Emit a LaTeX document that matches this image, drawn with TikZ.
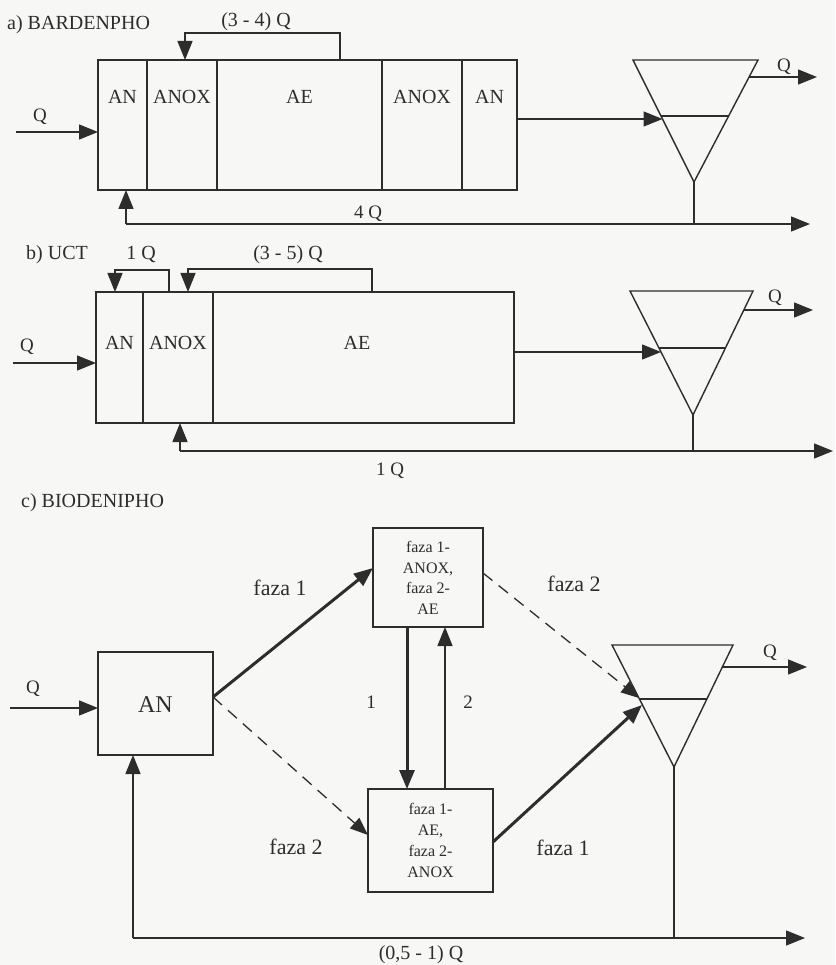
\documentclass[tikz,border=0pt]{standalone}
\usepackage{fontspec}
\setmainfont{Liberation Serif}
\usetikzlibrary{arrows.meta,calc}
\definecolor{ink}{RGB}{45,45,45}
\definecolor{paper}{RGB}{247,247,245}
\begin{document}
\begin{tikzpicture}[x=1pt,y=-1pt,
  every node/.style={text=ink},
  ln/.style={draw=ink,line width=1.4pt},
  arr/.style={ln,-{Triangle[length=19pt,width=15pt]}},
  tarr/.style={draw=ink,line width=3pt,-{Triangle[length=19pt,width=15pt]}},
  darr/.style={draw=ink,line width=1.3pt,dash pattern=on 12pt off 8pt,-{Triangle[length=18pt,width=14pt]}},
  cell/.style={ln,rectangle,inner sep=0pt,outer sep=0pt,anchor=north west},
  lbl/.style={font=\fontsize{20}{23}\selectfont,inner sep=0pt},
  qlbl/.style={font=\fontsize{19}{22}\selectfont,inner sep=0pt},
  fz/.style={font=\fontsize{22}{25}\selectfont,inner sep=0pt},
  boxt/.style={font=\fontsize{16}{20.5}\selectfont,align=center,inner sep=0pt}
]
\fill[paper] (0,0) rectangle (835,965);
\useasboundingbox (0,0) rectangle (835,965);

%%%%%%%%%%%%%%%% a) BARDENPHO
\node[lbl,anchor=west] (ta) at (7,25) {a) BARDENPHO};
\node[lbl] (ta34) at (256,22) {(3 - 4) Q};
\node[cell,minimum width=49pt,minimum height=130pt] (a1) at (98,60) {};
\node[cell,minimum width=70pt,minimum height=130pt] (a2) at (147,60) {};
\node[cell,minimum width=165pt,minimum height=130pt] (a3) at (217,60) {};
\node[cell,minimum width=80pt,minimum height=130pt] (a4) at (382,60) {};
\node[cell,minimum width=55pt,minimum height=130pt] (a5) at (462,60) {};
\node[lbl] (a1t) at (122.5,97) {AN};
\node[lbl] (a2t) at (182,97) {ANOX};
\node[lbl] (a3t) at (299.5,97) {AE};
\node[lbl] (a4t) at (422,97) {ANOX};
\node[lbl] (a5t) at (489.5,97) {AN};
% inlet
\coordinate (aIn) at (16,132);
\node[qlbl] (aQ) at (40,117) {Q};
\draw[arr] (aIn) -- (aIn -| a1.west);
% internal recycle
\coordinate (aR1) at (340,60);
\coordinate (aR2) at (185,60);
\draw[arr] (aR1) -- ++(0,-27) -| (aR2);
% settler
\coordinate (aTL) at (633,60);
\coordinate (aTR) at (758,60);
\coordinate (aB) at (694,182);
\draw[ln,line join=miter] (aTL) -- (aTR) -- (aB) -- cycle;
\draw[ln] (661,116) coordinate (aM1) -- (728.6,116) coordinate (aM2);
\coordinate (aS) at (662.5,119);
\draw[arr] (aS -| a5.east) -- (aS);
\coordinate (aO) at (749,77);
\coordinate (aOe) at (817,77);
\draw[arr] (aO) -- (aOe);
\node[qlbl] (aQo) at (784,67) {Q};
% sludge return
\coordinate (aBL) at (126,224);
\coordinate (aBR) at (810,224);
\draw[ln] (aB) -- (aB |- aBL);
\draw[arr] (aBL) -- (aBR);
\draw[arr] (aBL) -- (aBL |- a1.south);
\node[qlbl] (a4Q) at (368,214) {4 Q};

%%%%%%%%%%%%%%%% b) UCT
\node[lbl,anchor=west] (tb) at (26,255) {b) UCT};
\node[lbl] (tb1) at (141,255) {1 Q};
\node[lbl] (tb35) at (288,255) {(3 - 5) Q};
\node[cell,minimum width=47pt,minimum height=131pt] (b1) at (96,292) {};
\node[cell,minimum width=70pt,minimum height=131pt] (b2) at (143,292) {};
\node[cell,minimum width=301pt,minimum height=131pt] (b3) at (213,292) {};
\node[lbl] (b1t) at (119.5,343) {AN};
\node[lbl] (b2t) at (178,343) {ANOX};
\node[lbl] (b3t) at (357,343) {AE};
% inlet
\coordinate (bIn) at (13,363);
\node[qlbl] (bQ) at (27,347) {Q};
\draw[arr] (bIn) -- (bIn -| b1.west);
% recycles
\coordinate (bR1) at (169,292);
\coordinate (bR2) at (115,292);
\draw[arr] (bR1) -- ++(0,-22) -| (bR2);
\coordinate (bR3) at (372,292);
\coordinate (bR4) at (188,292);
\draw[arr] (bR3) -- ++(0,-23) -| (bR4);
% settler
\coordinate (bTL) at (630,291);
\coordinate (bTR) at (753,291);
\coordinate (bB) at (693,415);
\draw[ln,line join=miter] (bTL) -- (bTR) -- (bB) -- cycle;
\draw[ln] (659,348) coordinate (bM1) -- (725.4,348) coordinate (bM2);
\coordinate (bS) at (661,352);
\draw[arr] (bS -| b3.east) -- (bS);
\coordinate (bO) at (743.8,310);
\coordinate (bOe) at (813,310);
\draw[arr] (bO) -- (bOe);
\node[qlbl] (bQo) at (775,298) {Q};
% sludge
\coordinate (bBL) at (180,451);
\coordinate (bBR) at (833,451);
\draw[ln] (bB) -- (bB |- bBL);
\draw[arr] (bBL) -- (bBR);
\draw[arr] (bBL) -- (bBL |- b2.south);
\node[qlbl] (b1Q) at (390,471) {1 Q};

%%%%%%%%%%%%%%%% c) BIODENIPHO
\node[lbl,anchor=west] (tc) at (21,503) {c) BIODENIPHO};
\node[cell,minimum width=115pt,minimum height=103pt] (cA) at (98,652) {};
\node[font=\fontsize{24}{27}\selectfont,inner sep=0pt] (cAt) at (155.5,705) {AN};
\node[cell,minimum width=110pt,minimum height=99pt] (cU) at (373,528) {};
\node[boxt] (cUt) at (428,578) {faza 1-\\ANOX,\\faza 2-\\AE};
\node[cell,minimum width=125pt,minimum height=103pt] (cL) at (368,789) {};
\node[boxt,font=\fontsize{16}{21}\selectfont] (cLt) at (430.5,840) {faza 1-\\AE,\\faza 2-\\ANOX};
% inlet
\coordinate (cIn) at (10,708);
\node[qlbl] (cQ) at (33,689) {Q};
\draw[arr] (cIn) -- (cIn -| cA.west);
% AN -> upper (faza 1) and AN -> lower (faza 2)
\coordinate (cAo) at (213,697);
\coordinate (cUi) at (373,568);
\draw[tarr] (cAo) -- (cUi);
\node[fz] (cf1a) at (280,588) {faza 1};
\coordinate (cLi) at (368,835);
\draw[darr] (cAo) -- (cLi);
\node[fz] (cf2a) at (296,847) {faza 2};
% between reactors
\coordinate (c1x) at (407,0);
\coordinate (c2x) at (445,0);
\draw[tarr] (c1x |- cU.south) -- (c1x |- cL.north);
\draw[arr] (c2x |- cL.north) -- (c2x |- cU.south);
\node[qlbl] (c1l) at (371,702) {1};
\node[qlbl] (c2l) at (468,702) {2};
% to settler
\coordinate (cUo) at (483,573);
\coordinate (cSd) at (639,698);
\draw[darr] (cUo) -- (cSd);
\node[fz] (cf2b) at (574,584) {faza 2};
\coordinate (cLo) at (493,842);
\coordinate (cSt) at (642,705);
\draw[tarr] (cLo) -- (cSt);
\node[fz] (cf1b) at (563,848) {faza 1};
% settler
\coordinate (cTL) at (612,645);
\coordinate (cTR) at (733,645);
\coordinate (cB) at (674,767);
\draw[ln,line join=miter] (cTL) -- (cTR) -- (cB) -- cycle;
\draw[ln] (639.4,699) coordinate (cM1) -- (706.9,699) coordinate (cM2);
\coordinate (cO) at (722.4,667);
\coordinate (cOe) at (807,667);
\draw[arr] (cO) -- (cOe);
\node[qlbl] (cQo) at (770,653) {Q};
% sludge return
\coordinate (cBL) at (133,938);
\coordinate (cBR) at (805,938);
\draw[ln] (cB) -- (cB |- cBL);
\draw[arr] (cBL) -- (cBR);
\draw[arr] (cBL) -- (cBL |- cA.south);
\node[lbl] (cRQ) at (421,955) {(0,5 - 1) Q};
\end{tikzpicture}
\end{document}
